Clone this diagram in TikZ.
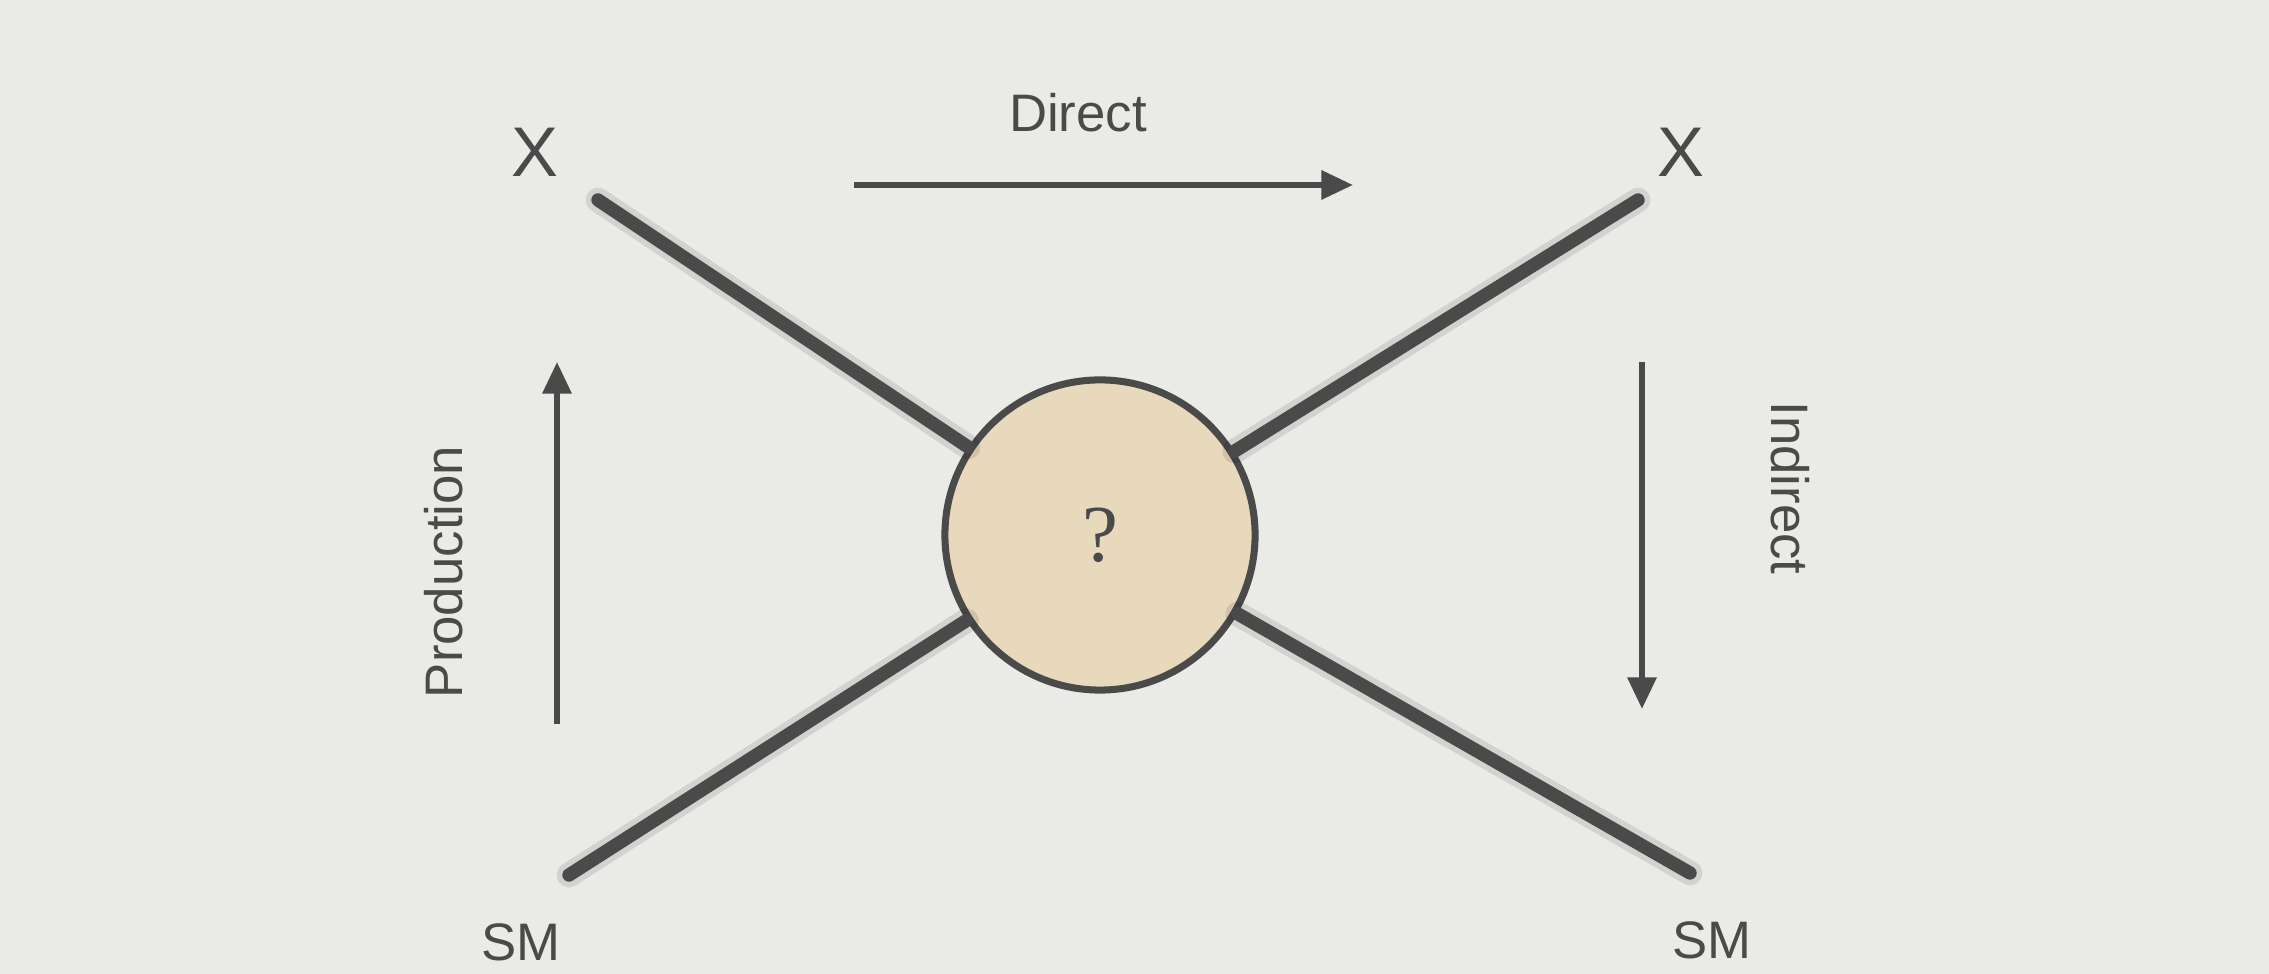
\documentclass[tikz,border=0pt]{standalone}
\usepackage{fontspec}
\setmainfont{Liberation Sans}
\newfontfamily\qfont{Liberation Serif}
\usetikzlibrary{arrows.meta, positioning, calc}

\definecolor{paper}{HTML}{EAEAE6}
\definecolor{ink}{HTML}{4A4A4A}
\definecolor{sand}{HTML}{E8D9BD}

\tikzset{
  lbl/.style={text=ink, inner sep=0pt, font=\fontsize{15}{18}\selectfont},
  big/.style={lbl, font=\fontsize{20}{24}\selectfont},
  blob/.style={circle, draw=ink, line width=2pt, fill=sand,
               minimum size=3.1cm, text=ink,
               font=\qfont\fontsize{23}{26}\selectfont},
  leg/.style={draw=ink, line width=3.8pt, line cap=round},
  legshade/.style={draw=black, opacity=0.10, line width=7pt, line cap=round},
  arr/.style={-{Triangle[length=9pt,width=8pt]}, draw=ink, line width=1.7pt},
}

\begin{document}
\begin{tikzpicture}[x=0.01cm, y=-0.01cm]
  \fill[paper] (0,0) rectangle (2269,974);

  % ends of the two legs
  \coordinate (tl) at (598,200);
  \coordinate (tr) at (1638,200);
  \coordinate (bl) at (569,875);
  \coordinate (br) at (1690,873);

  \node[blob] (qm) at (1100,535) {?};

  \begin{scope}[yshift=-0.14cm]
    \foreach \e in {tl,tr,bl,br}
      \draw[legshade] (\e) -- (qm);
  \end{scope}
  \foreach \e in {tl,tr,bl,br}
    \draw[leg] (\e) -- (qm);

  \node[big] (xl) at (535,152) {X};
  \node[big] (xr) at (1681,152) {X};
  \node[lbl] (sml) at (521,942) {SM};
  \node[lbl] (smr) at (1712,940) {SM};

  \node[lbl] (dir) at (1078,113) {Direct};
  \node[lbl, rotate=90] (prod) at (444,572) {Production};
  \node[lbl, rotate=-90] (ind) at (1790,488) {Indirect};

  % process arrows
  \coordinate (d0) at (854,185);
  \coordinate (d1) at (1353,185);
  \coordinate (p0) at (557,724);
  \coordinate (p1) at (557,362);
  \coordinate (i0) at (1642,362);
  \coordinate (i1) at (1642,709);
  \draw[arr] (d0) -- (d1);
  \draw[arr] (p0) -- (p1);
  \draw[arr] (i0) -- (i1);
\end{tikzpicture}
\end{document}
